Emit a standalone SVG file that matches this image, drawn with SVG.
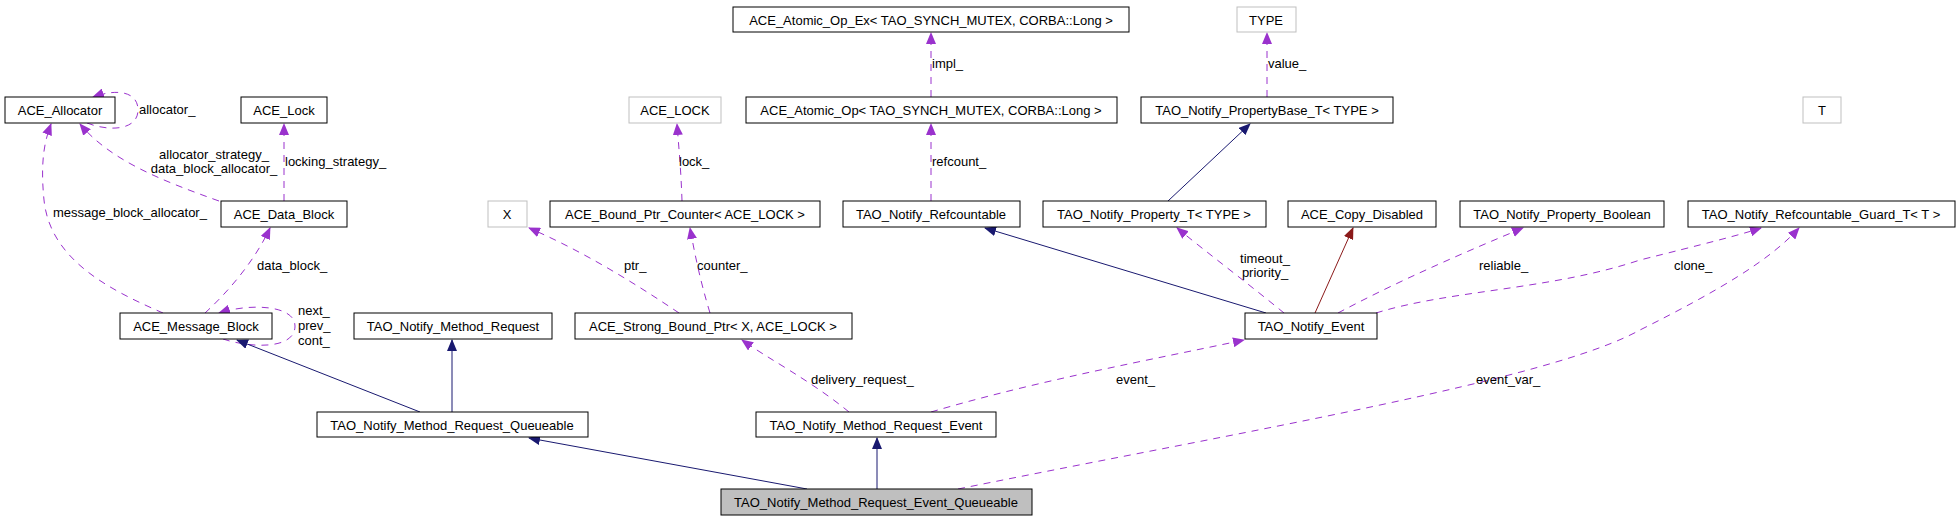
<svg xmlns="http://www.w3.org/2000/svg" width="1960" height="520" viewBox="0 0 1960 520">
<style>
text{font-family:"Liberation Sans",Arial,sans-serif;font-size:13px;fill:#000}
.n rect{fill:#fff;stroke:#000;stroke-width:1}
.g rect{fill:#fff;stroke:#bfbfbf;stroke-width:1}
.f rect{fill:#bfbfbf;stroke:#000;stroke-width:1}
.n text,.g text,.f text{text-anchor:middle}
.d{fill:none;stroke:#9a32cd;stroke-dasharray:7,6;marker-end:url(#ap)}
.i{fill:none;stroke:#191970;marker-end:url(#an)}
.r{fill:none;stroke:#8b1a1a;marker-end:url(#ar)}
.m{text-anchor:middle}
</style>
<defs>
<marker id="ap" markerWidth="12" markerHeight="10" refX="11" refY="5" orient="auto" markerUnits="userSpaceOnUse"><path d="M0,0L12,5L0,10z" fill="#9a32cd"/></marker>
<marker id="an" markerWidth="12" markerHeight="10" refX="11" refY="5" orient="auto" markerUnits="userSpaceOnUse"><path d="M0,0L12,5L0,10z" fill="#191970"/></marker>
<marker id="ar" markerWidth="12" markerHeight="10" refX="11" refY="5" orient="auto" markerUnits="userSpaceOnUse"><path d="M0,0L12,5L0,10z" fill="#8b1a1a"/></marker>
</defs>
<g id="edges">
<path class="d" d="M87,123 C110,132 138,130 138,110 C138,92 118,88 93,97"/>
<text x="139" y="114">allocator_</text>
<path class="d" d="M219,201 C160,180 110,160 80,124"/>
<text class="m" x="214" y="159">allocator_strategy_</text>
<text class="m" x="214" y="173">data_block_allocator_</text>
<path class="d" d="M284,201 L284,124"/>
<text x="285" y="166">locking_strategy_</text>
<path class="d" d="M163,313 C110,290 50,260 44,200 C40,160 45,140 51,124"/>
<text x="53" y="217">message_block_allocator_</text>
<path class="d" d="M205,313 C230,290 255,260 270,228"/>
<text x="257" y="270">data_block_</text>
<path class="d" d="M223,339 C250,348 295,350 295,326 C295,305 250,303 219,313"/>
<text x="298" y="315">next_</text>
<text x="298" y="330">prev_</text>
<text x="298" y="345">cont_</text>
<path class="i" d="M420,412 L237,340"/>
<path class="i" d="M452,412 L452,340"/>
<path class="i" d="M807,489 L529,438"/>
<path class="i" d="M877,489 L877,438"/>
<path class="d" d="M958,489 C1250,430 1550,380 1640,330 C1720,290 1770,260 1799,228"/>
<text x="1476" y="384">event_var_</text>
<path class="d" d="M849,412 C810,380 770,360 742,340"/>
<text x="811" y="384">delivery_request_</text>
<path class="d" d="M931,412 C1040,380 1150,360 1244,340"/>
<text x="1116" y="384">event_</text>
<path class="d" d="M679,313 C630,280 580,250 529,228"/>
<text x="624" y="270">ptr_</text>
<path class="d" d="M710,313 C700,280 695,255 690,228"/>
<text x="697" y="270">counter_</text>
<path class="d" d="M682,201 C681,170 679,150 677,124"/>
<text x="679" y="166">lock_</text>
<path class="d" d="M931,201 L931,124"/>
<text x="932" y="166">refcount_</text>
<path class="d" d="M931,97 L931,33"/>
<text x="932" y="68">impl_</text>
<path class="d" d="M1267,97 L1267,33"/>
<text x="1268" y="68">value_</text>
<path class="i" d="M1168,201 L1250,124"/>
<path class="i" d="M1266,313 L985,228"/>
<path class="d" d="M1284,313 C1250,285 1210,255 1177,228"/>
<text class="m" x="1265" y="263">timeout_</text>
<text class="m" x="1265" y="277">priority_</text>
<path class="r" d="M1315,313 L1353,228"/>
<path class="d" d="M1338,313 C1400,280 1470,250 1523,228"/>
<text x="1479" y="270">reliable_</text>
<path class="d" d="M1376,313 C1450,290 1550,290 1640,260 C1700,245 1740,235 1761,228"/>
<text x="1674" y="270">clone_</text>
</g>
<g id="ACE_Allocator" class="n"><rect x="5" y="97" width="110" height="26"/><text x="60" y="115">ACE_Allocator</text></g>
<g id="ACE_Lock" class="n"><rect x="241" y="97" width="86" height="26"/><text x="284" y="115">ACE_Lock</text></g>
<g id="ACE_Data_Block" class="n"><rect x="221" y="201" width="126" height="26"/><text x="284" y="219">ACE_Data_Block</text></g>
<g id="ACE_Message_Block" class="n"><rect x="120" y="313" width="152" height="26"/><text x="196" y="331">ACE_Message_Block</text></g>
<g id="TAO_Notify_Method_Request" class="n"><rect x="354" y="313" width="198" height="26"/><text x="453" y="331">TAO_Notify_Method_Request</text></g>
<g id="TAO_Notify_Method_Request_Queueable" class="n"><rect x="317" y="412" width="271" height="25"/><text x="452" y="430">TAO_Notify_Method_Request_Queueable</text></g>
<g id="X" class="g"><rect x="488" y="201" width="39" height="26"/><text x="507" y="219">X</text></g>
<g id="ACE_LOCK" class="g"><rect x="629" y="97" width="92" height="26"/><text x="675" y="115">ACE_LOCK</text></g>
<g id="ACE_Bound_Ptr_Counter" class="n"><rect x="550" y="201" width="270" height="26"/><text x="685" y="219">ACE_Bound_Ptr_Counter&lt; ACE_LOCK &gt;</text></g>
<g id="ACE_Strong_Bound_Ptr" class="n"><rect x="575" y="313" width="277" height="26"/><text x="713" y="331">ACE_Strong_Bound_Ptr&lt; X, ACE_LOCK &gt;</text></g>
<g id="ACE_Atomic_Op_Ex" class="n"><rect x="733" y="7" width="396" height="25"/><text x="931" y="25">ACE_Atomic_Op_Ex&lt; TAO_SYNCH_MUTEX, CORBA::Long &gt;</text></g>
<g id="TYPE" class="g"><rect x="1237" y="7" width="59" height="25"/><text x="1266" y="25">TYPE</text></g>
<g id="ACE_Atomic_Op" class="n"><rect x="746" y="97" width="371" height="26"/><text x="931" y="115">ACE_Atomic_Op&lt; TAO_SYNCH_MUTEX, CORBA::Long &gt;</text></g>
<g id="TAO_Notify_PropertyBase_T" class="n"><rect x="1141" y="97" width="252" height="26"/><text x="1267" y="115">TAO_Notify_PropertyBase_T&lt; TYPE &gt;</text></g>
<g id="TAO_Notify_Refcountable" class="n"><rect x="843" y="201" width="177" height="26"/><text x="931" y="219">TAO_Notify_Refcountable</text></g>
<g id="TAO_Notify_Property_T" class="n"><rect x="1043" y="201" width="223" height="26"/><text x="1154" y="219">TAO_Notify_Property_T&lt; TYPE &gt;</text></g>
<g id="ACE_Copy_Disabled" class="n"><rect x="1288" y="201" width="148" height="26"/><text x="1362" y="219">ACE_Copy_Disabled</text></g>
<g id="TAO_Notify_Property_Boolean" class="n"><rect x="1460" y="201" width="204" height="26"/><text x="1562" y="219">TAO_Notify_Property_Boolean</text></g>
<g id="TAO_Notify_Refcountable_Guard_T" class="n"><rect x="1688" y="201" width="267" height="26"/><text x="1821" y="219">TAO_Notify_Refcountable_Guard_T&lt; T &gt;</text></g>
<g id="T" class="g"><rect x="1803" y="97" width="38" height="26"/><text x="1822" y="115">T</text></g>
<g id="TAO_Notify_Event" class="n"><rect x="1245" y="313" width="132" height="26"/><text x="1311" y="331">TAO_Notify_Event</text></g>
<g id="TAO_Notify_Method_Request_Event" class="n"><rect x="756" y="412" width="240" height="25"/><text x="876" y="430">TAO_Notify_Method_Request_Event</text></g>
<g id="TAO_Notify_Method_Request_Event_Queueable" class="f"><rect x="721" y="489" width="311" height="26"/><text x="876" y="507">TAO_Notify_Method_Request_Event_Queueable</text></g>
</svg>
